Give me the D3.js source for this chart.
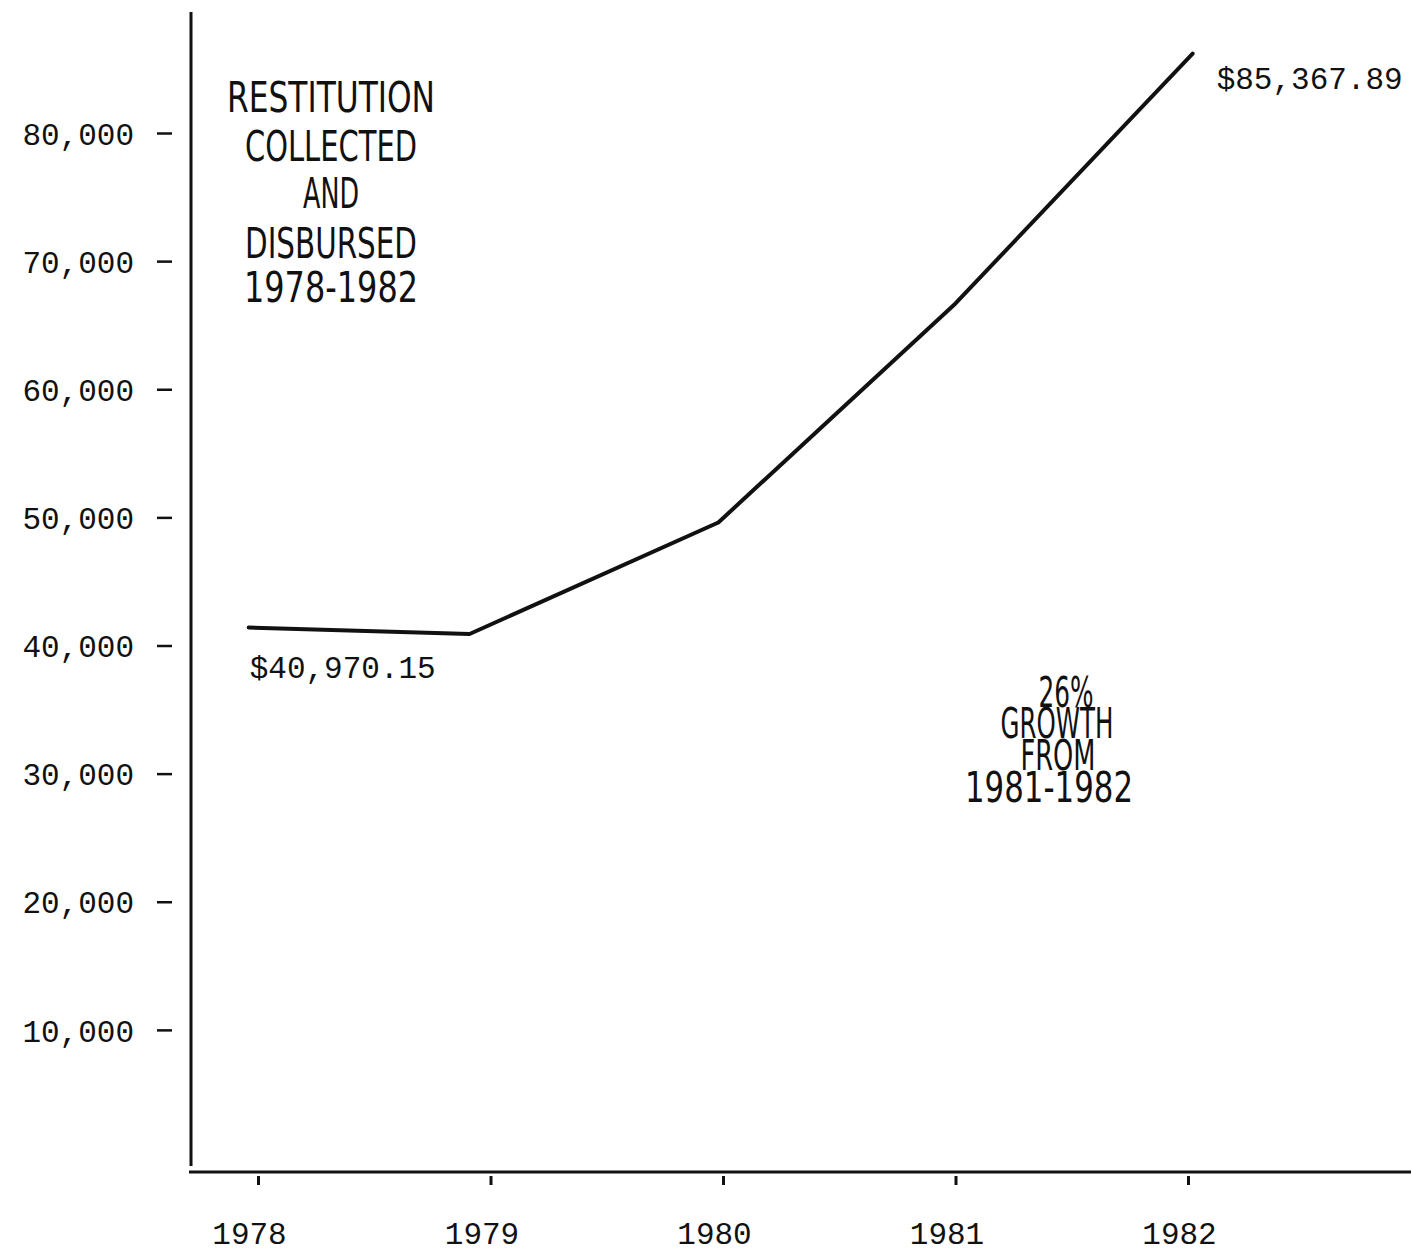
<!DOCTYPE html>
<html>
<head>
<meta charset="utf-8">
<script src="https://cdn.jsdelivr.net/npm/d3@7"></script>
<style>
  body { margin: 0; background: #fff; }
  svg { display: block; background: #fff; }
  .mono { font-family: "Liberation Mono", "DejaVu Sans Mono", monospace; font-size: 31px; fill: #111; }
  .cond { font-family: "Liberation Sans Narrow", "DejaVu Sans Condensed", "Liberation Sans", sans-serif; font-size: 42px; fill: #111; }
</style>
</head>
<body>
<div id="chart"></div>
<script>
// data
const years = [1978, 1979, 1980, 1981, 1982];
// where each point sits along the year axis (hand drawn, slightly off the ticks)
const pointYears = [1977.96, 1978.91, 1979.98, 1981.0, 1982.02];
const amounts = [41400, 40900, 49600, 66700, 86200];
const yTicks = [10000, 20000, 30000, 40000, 50000, 60000, 70000, 80000];
const titleLines = ["RESTITUTION", "COLLECTED", "AND", "DISBURSED", "1978-1982"];
const growthLines = ["26%", "GROWTH", "FROM", "1981-1982"];
const firstLabel = "$40,970.15";
const lastLabel = "$85,367.89";

const width = 1411, height = 1250;

const svg = d3.select('#chart')
  .append('svg')
  .attr('width', width)
  .attr('height', height);

const x = d3.scaleLinear().domain([1978, 1982]).range([258, 1188]);
const y = d3.scaleLinear().domain([0, 80000]).range([1158, 133]);

// axis lines
svg.append("line")
    .attr("x1", 191).attr("x2", 191)
    .attr("y1", 12).attr("y2", 1166)
    .attr("stroke", "#111").attr("stroke-width", 3);

svg.append("line")
    .attr("x1", 189).attr("x2", width)
    .attr("y1", 1172).attr("y2", 1172)
    .attr("stroke", "#111").attr("stroke-width", 3);

// y axis: label then a little dash, clear of the axis line
const yAxis = svg.append("g")
    .attr("transform", "translate(191,0)")
    .call(d3.axisLeft(y).tickValues(yTicks).tickFormat(d3.format(",")));

yAxis.select(".domain").remove();
yAxis.selectAll(".tick line")
    .attr("x1", -34).attr("x2", -19)
    .attr("stroke", "#111").attr("stroke-width", 2.5);
yAxis.selectAll(".tick text")
    .attr("class", "mono")
    .attr("x", -57)
    .attr("dy", "0.36em")
    .attr("font-size", null)
    .attr("font-family", null);

// x axis: short marks under the line, years well below
const xAxis = svg.append("g")
    .attr("transform", "translate(0,1172)")
    .call(d3.axisBottom(x).tickValues(years).tickFormat(d3.format("d")));

xAxis.select(".domain").remove();
xAxis.selectAll(".tick line")
    .attr("y1", 4).attr("y2", 13)
    .attr("stroke", "#111").attr("stroke-width", 3);
xAxis.selectAll(".tick text")
    .attr("class", "mono")
    .attr("x", -9)
    .attr("y", 72)
    .attr("dy", 0)
    .attr("font-size", null)
    .attr("font-family", null);

// the line
const points = years.map((yr, i) => ({ year: pointYears[i], value: amounts[i] }));

const line = d3.line()
    .x(d => x(d.year))
    .y(d => y(d.value));

svg.append("path")
    .datum(points)
    .attr("fill", "none")
    .attr("stroke", "#111")
    .attr("stroke-width", 4)
    .attr("stroke-linejoin", "round")
    .attr("stroke-linecap", "round")
    .attr("d", line);

// value notes
const p0 = points[0], pN = points[points.length - 1];
svg.append("text")
    .attr("class", "mono")
    .attr("x", x(p0.year) + 1)
    .attr("y", y(p0.value) + 50)
    .text(firstLabel);

svg.append("text")
    .attr("class", "mono")
    .attr("x", x(pN.year) + 24)
    .attr("y", y(pN.value) + 35)
    .text(lastLabel);

// title block, condensed lettering
const titleBase = [112, 161, 208, 258, 302];
const titleWidth = [208, 172, 56, 172, 174];
svg.append("g")
  .selectAll("text")
  .data(titleLines)
  .join("text")
    .attr("class", "cond")
    .attr("text-anchor", "middle")
    .attr("x", 331)
    .attr("y", (d, i) => titleBase[i])
    .attr("textLength", (d, i) => titleWidth[i])
    .attr("lengthAdjust", "spacingAndGlyphs")
    .text(d => d);

// growth note: tightly stacked lines, kept in one text block
const growthBase = [707, 738, 770, 802];
const growthWidth = [55, 113, 75, 168];
const growthX = [1066, 1057, 1058, 1049];
svg.append("text")
    .attr("class", "cond")
    .attr("font-size", 39)
    .attr("text-anchor", "middle")
  .selectAll("tspan")
  .data(growthLines)
  .join("tspan")
    .attr("x", (d, i) => growthX[i])
    .attr("y", (d, i) => growthBase[i])
    .attr("textLength", (d, i) => growthWidth[i])
    .attr("lengthAdjust", "spacingAndGlyphs")
    .text(d => d);
</script>
</body>
</html>
